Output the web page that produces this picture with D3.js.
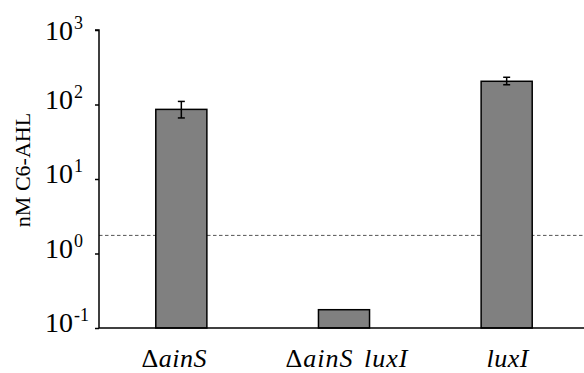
<!DOCTYPE html>
<html>
<head>
<meta charset="utf-8">
<script src="https://cdn.jsdelivr.net/npm/d3@7"></script>
<style>
  html, body { margin: 0; padding: 0; background: #fff; }
  svg { display: block; }
</style>
</head>
<body>
<svg id="chart" width="584" height="373"></svg>
<script>
// Strains and measured C6-AHL concentrations (nM)
const strains = [
  { pre: "\u0394", name: "ainS" },
  { pre: "\u0394", name: "ainS luxI" },
  { pre: "", name: "luxI" }
];
const means = [86, 0.176, 205];
const errLow = [66, null, 184];
const errHigh = [110, null, 232];
const tickExponents = [-1, 0, 1, 2, 3];
const detectionLimit = 1.75;

const W = 584, H = 373;
const m = { left: 99, right: 0, top: 30, bottom: 45 };
const FONT = "'Liberation Serif', 'Times New Roman', Times, serif";
const svg = d3.select("#chart").style("font-family", FONT);

const y = d3.scaleLog().domain([0.1, 1000]).range([H - m.bottom, m.top]);
const x = d3.scaleBand().domain(d3.range(strains.length)).range([100, 588]).padding(0);
const barW = x.bandwidth() * 0.314;

// detection limit (dashed)
svg.append("line")
  .attr("x1", m.left).attr("x2", W)
  .attr("y1", y(detectionLimit)).attr("y2", y(detectionLimit))
  .attr("stroke", "#555").attr("stroke-width", 1)
  .attr("stroke-dasharray", "3.5,2.5");

// bars
svg.selectAll("rect.bar").data(means).join("rect")
  .attr("class", "bar")
  .attr("x", (d, i) => x(i) + x.bandwidth() / 2 - barW / 2)
  .attr("width", barW)
  .attr("y", d => y(d))
  .attr("height", d => y(0.1) - y(d))
  .attr("fill", "#808080")
  .attr("stroke", "#000")
  .attr("stroke-width", 1.5);

// error bars
const eg = svg.append("g").attr("stroke", "#000").attr("stroke-width", 1.5);
means.forEach((d, i) => {
  if (errLow[i] == null) return;
  const cx = x(i) + x.bandwidth() / 2;
  eg.append("line").attr("x1", cx).attr("x2", cx).attr("y1", y(errHigh[i])).attr("y2", y(errLow[i]));
  eg.append("line").attr("x1", cx - 3.5).attr("x2", cx + 3.5).attr("y1", y(errHigh[i])).attr("y2", y(errHigh[i]));
  eg.append("line").attr("x1", cx - 3.5).attr("x2", cx + 3.5).attr("y1", y(errLow[i])).attr("y2", y(errLow[i]));
});

// y axis
const yAxis = d3.axisLeft(y)
  .tickValues(tickExponents.map(e => Math.pow(10, e)))
  .tickSize(4)
  .tickFormat("");
const ya = svg.append("g").attr("transform", `translate(${m.left},0)`).call(yAxis);
ya.select(".domain").attr("stroke-width", 1.5).attr("d", `M-4,${m.top}H0V${H - m.bottom}`);
ya.selectAll(".tick line").attr("stroke-width", 1.5);

// tick labels as powers of ten
const lbl = svg.append("g");
tickExponents.forEach(e => {
  const ty = Math.max(y(Math.pow(10, e)) + 4, m.top + 10);
  const t = lbl.append("text").attr("x", 45).attr("y", ty)
    .style("font-family", FONT).style("font-size", "28px");
  t.append("tspan").text("10");
  t.append("tspan").attr("dx", 1).attr("dy", -11).style("font-size", "18px").text(String(e));
});

// x axis baseline
svg.append("line")
  .attr("x1", m.left).attr("x2", W)
  .attr("y1", y(0.1)).attr("y2", y(0.1))
  .attr("stroke", "#000").attr("stroke-width", 1.5);

// strain labels
const labelShift = [-7, 3, 1];
strains.forEach((s, i) => {
  const t = svg.append("text")
    .attr("x", x(i) + x.bandwidth() / 2 + labelShift[i])
    .attr("y", 367)
    .attr("text-anchor", "middle")
    .style("font-family", FONT).style("font-size", "26px")
    .style("letter-spacing", i === 1 ? "1px" : "0.5px")
    .style("word-spacing", i === 1 ? "3px" : "0px");
  if (s.pre) t.append("tspan").text(s.pre);
  t.append("tspan").style("font-style", "italic").text(s.name);
});

// y axis title
svg.append("text")
  .attr("transform", `translate(30,170) rotate(-90)`)
  .attr("text-anchor", "middle")
  .style("font-family", FONT).style("font-size", "22px")
  .text("nM C6-AHL");
</script>
</body>
</html>
